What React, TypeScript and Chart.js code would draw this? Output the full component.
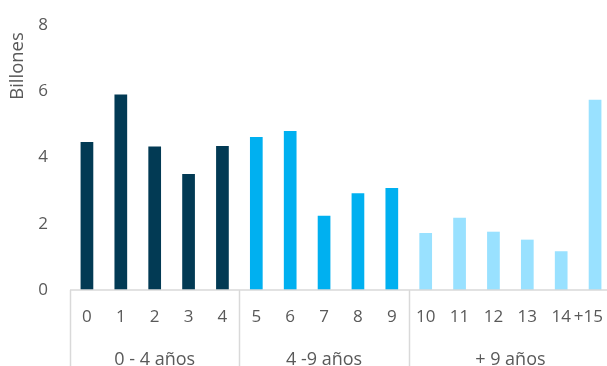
import React, { useEffect, useRef } from "react";
import { Chart, registerables } from "chart.js";

Chart.register(...registerables);

const categories = ["0", "1", "2", "3", "4", "5", "6", "7", "8", "9", "10", "11", "12", "13", "14", "+15"];
const values = [4.47, 5.9, 4.33, 3.5, 4.35, 4.62, 4.8, 2.24, 2.92, 3.08, 1.72, 2.18, 1.76, 1.52, 1.17, 5.74];
const groupLabels = ["0 - 4 años", "4 -9 años", "+ 9 años"];
const groupStarts = [0, 5, 10];
const groupColors = ["#023A54", "#00B0F0", "#99E1FF"];
const yTicks = [0, 2, 4, 6, 8];
const yTitle = "Billones";

const FONT = "'Open Sans', sans-serif";
const TEXT = "#595959";
const LINE = "#D9D9D9";

function groupOf(i: number) {
  let g = 0;
  groupStarts.forEach((s, k) => {
    if (i >= s) g = k;
  });
  return g;
}

const decorPlugin = {
  id: "decor",
  afterDraw(chart: any) {
    const ctx = chart.ctx;
    const x = chart.scales.x;
    const area = chart.chartArea;
    const half = (x.getPixelForValue(1) - x.getPixelForValue(0)) / 2;
    ctx.save();
    ctx.strokeStyle = LINE;
    ctx.lineWidth = 1.5;
    ctx.beginPath();
    ctx.moveTo(area.left, area.bottom);
    ctx.lineTo(chart.width, area.bottom);
    ctx.stroke();
    groupStarts.forEach((s) => {
      const px = Math.round(x.getPixelForValue(s) - half) + 0.5;
      ctx.beginPath();
      ctx.moveTo(px, area.bottom);
      ctx.lineTo(px, chart.height);
      ctx.stroke();
    });
    ctx.fillStyle = TEXT;
    ctx.font = `18px ${FONT}`;
    ctx.textAlign = "center";
    ctx.textBaseline = "alphabetic";
    groupStarts.forEach((s, k) => {
      const end = k + 1 < groupStarts.length ? groupStarts[k + 1] - 1 : categories.length - 1;
      const cx = (x.getPixelForValue(s) + x.getPixelForValue(end)) / 2;
      ctx.fillText(groupLabels[k], cx, 365);
    });
    ctx.font = `18.5px ${FONT}`;
    ctx.translate(18, 66);
    ctx.rotate(-Math.PI / 2);
    ctx.textBaseline = "middle";
    ctx.fillText(yTitle, 0, 0);
    ctx.restore();
  },
};

export default function App() {
  const ref = useRef<HTMLCanvasElement>(null);
  useEffect(() => {
    document.body.style.margin = "0";
    const chart = new Chart(ref.current as HTMLCanvasElement, {
      type: "bar",
      data: {
        labels: categories,
        datasets: [
          {
            data: values,
            backgroundColor: values.map((_, i) => groupColors[groupOf(i)]),
            borderWidth: 0,
            barPercentage: 0.375,
            categoryPercentage: 1,
          },
        ],
      },
      options: {
        responsive: false,
        animation: false,
        devicePixelRatio: 1,
        layout: { padding: { top: 25, left: 0, right: 0, bottom: 0 } },
        plugins: { legend: { display: false }, tooltip: { enabled: false } },
        scales: {
          x: {
            grid: { display: false, drawTicks: false },
            border: { display: false },
            ticks: {
              color: TEXT,
              font: { family: FONT, size: 17 },
              padding: 17,
              maxRotation: 0,
              autoSkip: false,
              callback: (_v: any, i: number) =>
                i === categories.length - 1 ? categories[i] + "\u00A0\u00A0\u00A0" : categories[i],
            },
            afterFit: (s: any) => {
              s.height = 76;
              s.paddingLeft = 0;
              s.paddingRight = 0;
            },
          },
          y: {
            min: 0,
            max: 8,
            afterBuildTicks: (s: any) => {
              s.ticks = yTicks.map((v) => ({ value: v }));
            },
            grid: { display: false, drawTicks: false },
            border: { display: false },
            ticks: { color: TEXT, font: { family: FONT, size: 17 }, padding: 22 },
            afterFit: (s: any) => {
              s.width = 70;
              s.paddingTop = 0;
              s.paddingBottom = 0;
            },
          },
        },
      },
      plugins: [decorPlugin],
    } as any);
    return () => chart.destroy();
  }, []);
  return (
    <div style={{ width: 607, height: 366, overflow: "hidden", position: "relative" }}>
      <canvas ref={ref} width={612} height={366} style={{ display: "block" }} />
    </div>
  );
}
